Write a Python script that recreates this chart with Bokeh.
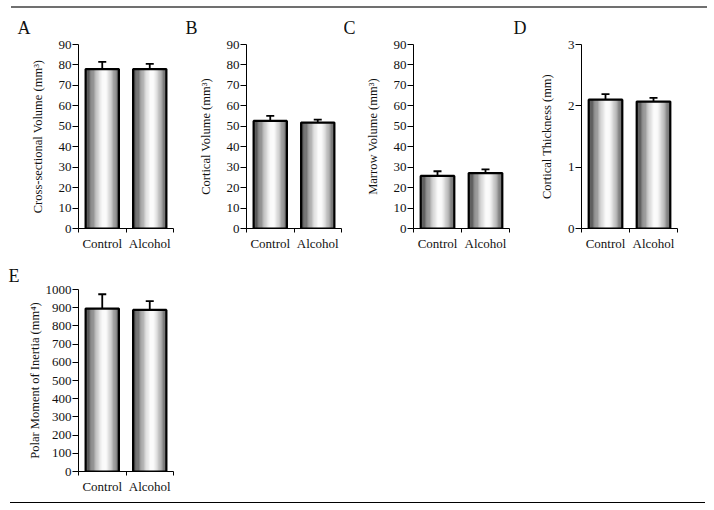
from bokeh.plotting import figure
from bokeh.layouts import row, column
from bokeh.models import (Range1d, FixedTicker, Whisker, TeeHead, ColumnDataSource, Div)
from bokeh.embed import file_html
from bokeh.resources import INLINE

# ---- data ----
categories = ["Control", "Alcohol"]
cross_sectional = [78.0, 78.0]
cross_sectional_err = [3.5, 2.5]
cortical_volume = [52.6, 51.8]
cortical_volume_err = [2.5, 1.5]
marrow_volume = [25.7, 27.1]
marrow_volume_err = [2.3, 1.8]
cortical_thickness = [2.10, 2.07]
cortical_thickness_err = [0.09, 0.06]
polar_moment = [895.0, 888.0]
polar_moment_err = [79.0, 48.0]

FONT = "Liberation Serif"
BAR_W = 0.70
N_STRIPS = 40

# horizontal shading of the bars (dark edges, bright just right of centre)
stops = [(0.0, 30), (0.1, 70), (0.25, 140), (0.4, 215), (0.52, 250),
         (0.62, 250), (0.75, 200), (0.88, 130), (1.0, 55)]


def shade(t):
    for (t0, v0), (t1, v1) in zip(stops[:-1], stops[1:]):
        if t0 <= t <= t1:
            v = v0 + (v1 - v0) * (t - t0) / (t1 - t0)
            v = int(round(v))
            return "#%02x%02x%02x" % (v, v, v)
    return "#000000"


def panel(letter, values, errs, ylabel, ymax, ystep, width, height,
          left, top, bottom, letter_offset, letter_standoff, label_standoff):
    p = figure(width=width, height=height, output_backend="svg",
               toolbar_location=None, x_range=Range1d(0.5, 2.5),
               y_range=Range1d(0, ymax), min_border_left=left,
               min_border_right=3, min_border_top=top,
               min_border_bottom=bottom, outline_line_color=None,
               background_fill_color="white", border_fill_color="white")
    p.grid.visible = False
    xs = [i + 1 for i in range(len(values))]

    # gradient strips
    sx, sw, stop_, scol = [], [], [], []
    for x, v in zip(xs, values):
        for k in range(N_STRIPS):
            t = (k + 0.5) / N_STRIPS
            sx.append(x - BAR_W / 2 + t * BAR_W)
            sw.append(BAR_W / N_STRIPS * 1.02)
            stop_.append(v)
            scol.append(shade(t))
    p.vbar(x=sx, width=sw, top=stop_, bottom=0, fill_color=scol,
           line_color=None)
    # outline
    p.vbar(x=xs, width=BAR_W, top=values, bottom=0, fill_color=None,
           line_color="black", line_width=2.2)

    # error bars (upper only)
    src = ColumnDataSource(dict(x=xs, lower=values,
                                upper=[v + e for v, e in zip(values, errs)]))
    w = Whisker(base="x", lower="lower", upper="upper", source=src,
                line_color="black", line_width=1.8,
                upper_head=TeeHead(size=8, line_color="black", line_width=1.8),
                lower_head=None)
    p.add_layout(w)

    # axes
    ticks = []
    t = 0.0
    while t <= ymax + 1e-9:
        ticks.append(round(t, 6))
        t += ystep
    p.yaxis.ticker = FixedTicker(ticks=ticks, minor_ticks=[])
    p.yaxis.major_label_overrides = {tk: ("%g" % tk) for tk in ticks}
    p.yaxis.major_tick_out = 6
    p.yaxis.major_tick_in = 0
    p.yaxis.minor_tick_line_color = None
    p.yaxis.axis_line_color = "black"
    p.yaxis.major_tick_line_color = "black"
    p.yaxis.major_label_text_font = FONT
    p.yaxis.major_label_text_font_size = "13px"
    p.yaxis.major_label_text_color = "#111111"
    p.yaxis.major_label_standoff = 1
    p.yaxis.axis_label = ylabel
    p.yaxis.axis_label_text_font = FONT
    p.yaxis.axis_label_text_font_size = "12.5px"
    p.yaxis.axis_label_text_font_style = "normal"
    p.yaxis.axis_label_text_color = "#111111"
    p.yaxis.axis_label_standoff = label_standoff

    p.xaxis.ticker = FixedTicker(ticks=xs, minor_ticks=[0.5, 1.5, 2.5])
    p.xaxis.major_label_overrides = {x: c for x, c in zip(xs, categories)}
    p.xaxis.major_tick_out = 0
    p.xaxis.major_tick_in = 0
    p.xaxis.minor_tick_out = 4
    p.xaxis.minor_tick_in = 0
    p.xaxis.minor_tick_line_color = "black"
    p.xaxis.axis_line_color = "black"
    p.xaxis.major_label_text_font = FONT
    p.xaxis.major_label_text_font_size = "13px"
    p.xaxis.major_label_text_color = "#111111"
    p.xaxis.major_label_standoff = 3

    p.title.text = letter
    p.title.align = "left"
    p.title.offset = letter_offset
    p.title.text_font = FONT
    p.title.text_font_size = "18px"
    p.title.text_font_style = "normal"
    p.title.text_color = "#111111"
    p.title.standoff = letter_standoff
    return p


ROW1_H = 250
pA = panel("A", cross_sectional, cross_sectional_err,
           "Cross-sectional Volume (mm³)", 90, 10, 168, ROW1_H, 70, 36, 30, -61, 14, 11)
pB = panel("B", cortical_volume, cortical_volume_err,
           "Cortical Volume (mm³)", 90, 10, 168, ROW1_H, 70, 36, 30, -61, 14, 11)
pC = panel("C", marrow_volume, marrow_volume_err,
           "Marrow Volume (mm³)", 90, 10, 168, ROW1_H, 69, 36, 30, -70, 14, 11)
pD = panel("D", cortical_thickness, cortical_thickness_err,
           "Cortical Thickness (mm)", 3, 1, 168, ROW1_H, 69, 36, 30, -68, 14, 11)
pE = panel("E", polar_moment, polar_moment_err,
           "Polar Moment of Inertia (mm⁴)", 1000, 100, 168, 244, 70, 31, 31, -70, 7, 1)

top_rule = Div(text="", width=696, height=2, margin=(6, 0, 0, 11),
               styles={"background-color": "#707070"})
bottom_rule = Div(text="", width=695, height=1, margin=(0, 0, 0, 10),
                  styles={"background-color": "#000000"})

row1 = row(pA, pB, pC, pD, spacing=0, margin=(0, 0, 0, 8))
row2 = row(pE, spacing=0, margin=(0, 0, 0, 8))
layout = column(top_rule, row1, row2, bottom_rule, spacing=0)

open("out.html", "w").write(file_html(layout, INLINE))
